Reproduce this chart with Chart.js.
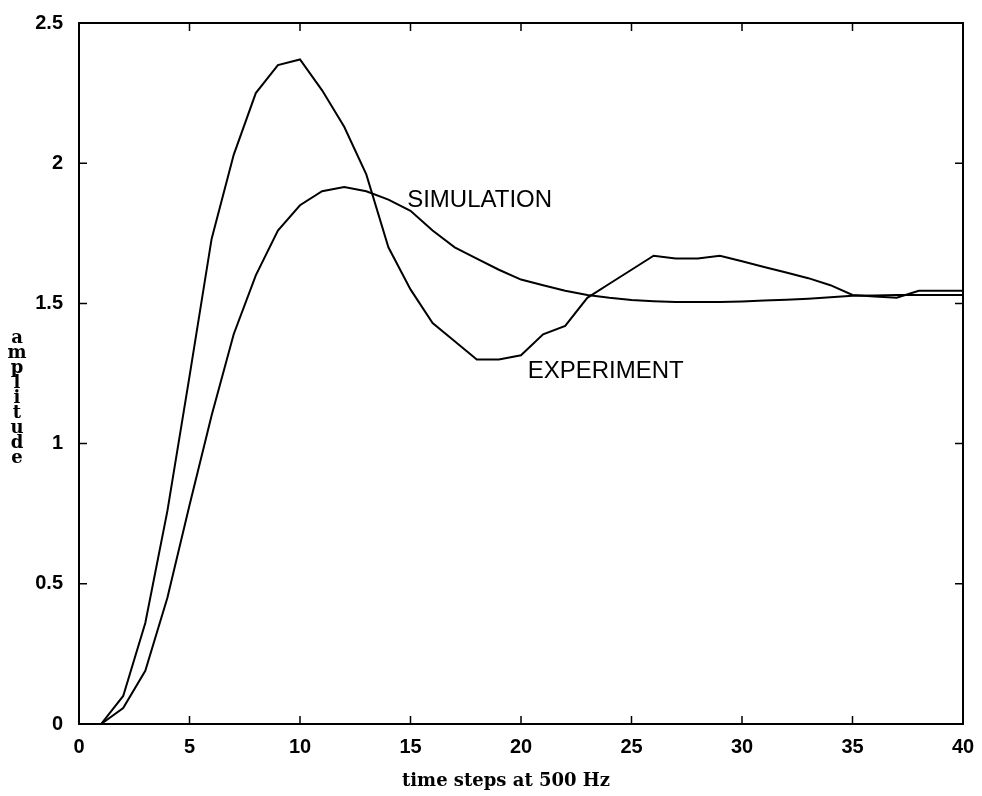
<!DOCTYPE html>
<html>
<head>
<meta charset="utf-8">
<script src="https://cdn.jsdelivr.net/npm/chart.js@4"></script>
<style>
  html, body { margin: 0; padding: 0; background: #fff; }
  #wrap { width: 982px; height: 796px; }
</style>
</head>
<body>
<div id="wrap"><canvas id="chart" width="982" height="796"></canvas></div>
<script>
// time steps (500 Hz samples)
const steps = [1, 2, 3, 4, 5, 6, 7, 8, 9, 10, 11, 12, 13, 14, 15, 16, 17, 18, 19, 20,
  21, 22, 23, 24, 25, 26, 27, 28, 29, 30, 31, 32, 33, 34, 35, 36, 37, 38, 39, 40];

const experiment = [0, 0.10, 0.36, 0.76, 1.24, 1.73, 2.03, 2.25, 2.35, 2.37,
  2.26, 2.13, 1.96, 1.70, 1.55, 1.43, 1.365, 1.30, 1.30, 1.315,
  1.39, 1.42, 1.52, 1.57, 1.62, 1.67, 1.66, 1.66, 1.67, 1.65,
  1.63, 1.61, 1.59, 1.565, 1.53, 1.525, 1.52, 1.545, 1.545, 1.545];

const simulation = [0, 0.057, 0.19, 0.45, 0.78, 1.10, 1.39, 1.60, 1.76, 1.85,
  1.90, 1.915, 1.90, 1.87, 1.83, 1.76, 1.70, 1.66, 1.62, 1.585,
  1.565, 1.545, 1.53, 1.52, 1.512, 1.508, 1.505, 1.505, 1.505, 1.507,
  1.51, 1.513, 1.517, 1.522, 1.527, 1.528, 1.53, 1.53, 1.53, 1.53];

const xTicks = [0, 5, 10, 15, 20, 25, 30, 35, 40];
const yTicks = [0, 0.5, 1, 1.5, 2, 2.5];
const yTickLabels = ['0', '0.5', '1', '1.5', '2', '2.5'];

// curve labels: [text, x, y] in data units (left edge, baseline)
const curveLabels = [
  ['SIMULATION', 14.85, 1.845],
  ['EXPERIMENT', 20.3, 1.235]
];

const xTitle = 'time steps at 500 Hz';
const yTitle = 'amplitude';

const toPoints = (ys) => ys.map((y, i) => ({ x: steps[i], y: y }));

// box, inward ticks, labels and stacked y title
const framePlugin = {
  id: 'frame',
  afterDraw(chart) {
    const ctx = chart.ctx;
    const a = chart.chartArea;
    const xs = chart.scales.x, ys = chart.scales.y;
    ctx.save();
    ctx.strokeStyle = '#000';
    ctx.lineWidth = 2;
    ctx.strokeRect(a.left, a.top, a.right - a.left, a.bottom - a.top);

    ctx.lineWidth = 1.5;
    const len = 8;
    ctx.beginPath();
    xTicks.forEach(v => {
      const px = xs.getPixelForValue(v);
      ctx.moveTo(px, a.bottom); ctx.lineTo(px, a.bottom - len);
      ctx.moveTo(px, a.top); ctx.lineTo(px, a.top + len);
    });
    yTicks.forEach(v => {
      const py = ys.getPixelForValue(v);
      ctx.moveTo(a.left, py); ctx.lineTo(a.left + len, py);
      ctx.moveTo(a.right, py); ctx.lineTo(a.right - len, py);
    });
    ctx.stroke();

    ctx.fillStyle = '#000';
    ctx.font = '24px "Liberation Sans", Arial, sans-serif';
    ctx.textAlign = 'left';
    ctx.textBaseline = 'alphabetic';
    curveLabels.forEach(([t, x, y]) => {
      ctx.fillText(t, xs.getPixelForValue(x), ys.getPixelForValue(y));
    });

    // x title
    ctx.font = 'bold 18px "DejaVu Serif", serif';
    ctx.textAlign = 'center';
    ctx.fillText(xTitle, 506, 786);

    // y title, letters stacked
    ctx.textBaseline = 'middle';
    yTitle.split('').forEach((ch, i) => {
      ctx.fillText(ch, 17, 338 + i * 15);
    });
    ctx.restore();
  }
};

new Chart(document.getElementById('chart'), {
  type: 'line',
  data: {
    datasets: [
      {
        label: 'Experiment',
        data: toPoints(experiment),
        borderColor: '#000',
        borderWidth: 2,
        pointRadius: 0,
        tension: 0,
        fill: false
      },
      {
        label: 'Simulation',
        data: toPoints(simulation),
        borderColor: '#000',
        borderWidth: 2,
        pointRadius: 0,
        tension: 0,
        fill: false
      }
    ]
  },
  options: {
    responsive: false,
    animation: false,
    layout: { padding: { top: 23, right: 19, left: 0, bottom: 0 } },
    plugins: {
      legend: { display: false },
      tooltip: { enabled: false }
    },
    scales: {
      x: {
        type: 'linear',
        min: 0,
        max: 40,
        afterBuildTicks: (s) => { s.ticks = xTicks.map(v => ({ value: v })); },
        grid: { display: false },
        border: { display: false },
        ticks: {
          color: '#000',
          padding: 3,
          maxRotation: 0,
          font: { family: '"Liberation Sans", Arial, sans-serif', size: 20, weight: 'bold' }
        },
        afterFit: (s) => { s.height = 72; }
      },
      y: {
        min: 0,
        max: 2.5,
        afterBuildTicks: (s) => { s.ticks = yTicks.map(v => ({ value: v })); },
        grid: { display: false },
        border: { display: false },
        ticks: {
          color: '#000',
          padding: 8,
          font: { family: '"Liberation Sans", Arial, sans-serif', size: 20, weight: 'bold' },
          callback: (v) => yTickLabels[yTicks.indexOf(v)]
        },
        afterFit: (s) => { s.width = 79; }
      }
    }
  },
  plugins: [framePlugin]
});
</script>
</body>
</html>
